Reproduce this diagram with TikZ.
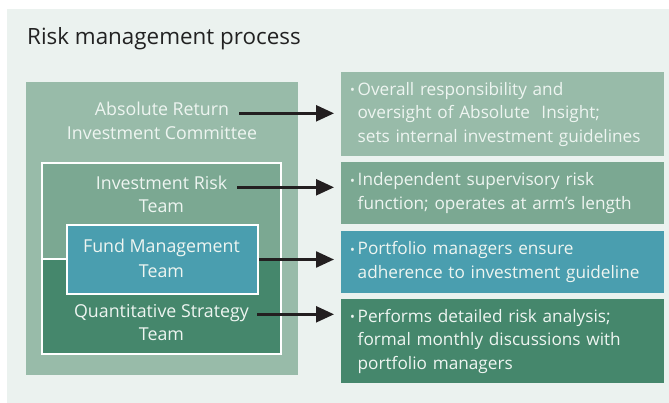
\documentclass[tikz,border=0pt]{standalone}
\usepackage{fontspec}
\usepackage{graphicx}
\setmainfont{Open Sans}
\usetikzlibrary{arrows.meta}
\definecolor{panelbg}{HTML}{EBF2EF}
\definecolor{cone}{HTML}{98BBA9}
\definecolor{ctwo}{HTML}{7BA892}
\definecolor{cfund}{HTML}{4A9EAF}
\definecolor{cquant}{HTML}{45876C}
\definecolor{boxtext}{HTML}{EEF5F1}
\definecolor{titlecol}{HTML}{222222}
\definecolor{arrcol}{HTML}{231F20}
\newcommand{\bulletmark}{\makebox[7.5pt][l]{\raisebox{0.5pt}{\scalebox{0.75}{•}}}}
\begin{document}
\begin{tikzpicture}[x=1pt,y=-1pt,
  lbl/.style={inner sep=0pt, text=boxtext, font=\fontsize{17.8}{24}\selectfont, anchor=base},
  blk/.style={anchor=north west, inner sep=0pt, draw=none},
  rbox/.style={anchor=north west, inner xsep=9pt, inner ysep=0pt, text width=305pt,
    minimum width=318pt, align=left, text=boxtext, font=\fontsize{17.2}{23.5}\selectfont},
  arr/.style={draw=arrcol, line width=2.4pt, -{Triangle[length=18pt,width=16pt]},
    shorten <=10pt, shorten >=7pt}
]
\useasboundingbox (0,0) rectangle (669,403);
\fill[panelbg] (7,9) rectangle (669,403);
\node[anchor=base west, inner sep=0pt, text=titlecol, font=\fontsize{22.4}{26}\selectfont] (title) at (27,45) {Risk management process};

% left nested boxes
\node[blk, fill=cone, minimum width=272pt, minimum height=293pt] (arc) at (26,82) {};
\node[blk, fill=ctwo, minimum width=239pt, minimum height=96pt] (irt) at (42,163) {};
\node[blk, fill=cquant, minimum width=239pt, minimum height=95pt] (qst) at (42,259) {};
\draw[white, line width=2pt] (irt.north west) rectangle (qst.south east);
\draw[white, line width=2pt] (irt.south west) -- (irt.south east);
\node[blk, fill=cfund, draw=white, line width=2pt, minimum width=191pt, minimum height=69pt] (fmt) at (66,224) {};

\node[lbl] (ar1) at (162,116) {Absolute Return};
\node[lbl] (ar2) at (162,140) {Investment Committee};
\node[lbl] (ir1) at (161.5,190) {Investment Risk};
\node[lbl] (ir2) at (161.5,213) {Team};
\node[lbl] (fm1) at (161.5,253) {Fund Management};
\node[lbl] (fm2) at (161.5,277) {Team};
\node[lbl] (qs1) at (161.5,317) {Quantitative Strategy};
\node[lbl] (qs2) at (161.5,340) {Team};

% right boxes
\node[rbox, fill=cone, minimum height=84pt] (r1) at (341,72)
  {\bulletmark Overall responsibility and\\\hspace*{7.5pt}oversight of Absolute\ \ Insight;\\\hspace*{7.5pt}sets internal investment guidelines};
\node[rbox, fill=ctwo, minimum height=62pt] (r2) at (341,162)
  {\bulletmark Independent supervisory risk\\\hspace*{7.5pt}function; operates at arm’s length};
\node[rbox, fill=cfund, minimum height=62pt] (r3) at (341,231)
  {\bulletmark Portfolio managers ensure\\\hspace*{7.5pt}adherence to investment guideline};
\node[rbox, fill=cquant, minimum height=84pt] (r4) at (341,299)
  {\bulletmark Performs detailed risk analysis;\\\hspace*{7.5pt}formal monthly discussions with\\\hspace*{7.5pt}portfolio managers};

% arrows
\draw[arr] (ar1.mid east) -- (r1.west |- ar1.mid east);
\draw[arr] (ir1.mid east) -- (r2.west |- ir1.mid east);
\draw[arr, shorten <=0pt] (fmt.east) -- (r3.west |- fmt.east);
\draw[arr, shorten <=8pt] (qs1.mid east) -- (r4.west |- qs1.mid east);
\end{tikzpicture}
\end{document}
